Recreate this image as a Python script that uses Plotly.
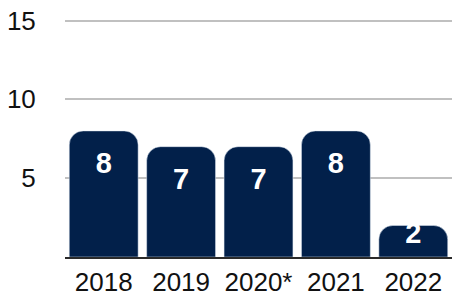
import plotly.graph_objects as go

categories = ["2018", "2019", "2020*", "2021", "2022"]
values = [8, 7, 7, 8, 2]
y_ticks = [5, 10, 15]

BAR_COLOR = "#02204a"
FONT = "Liberation Sans, Arial, Helvetica, sans-serif"

# label positions: inside each bar, below its rounded top
label_y = [v - 2.2 if v > 3 else v * 0.68 for v in values]

fig = go.Figure()
fig.add_trace(go.Bar(
    x=categories, y=values,
    marker=dict(color=BAR_COLOR, cornerradius=14),
    hoverinfo="skip",
))
fig.add_trace(go.Scatter(
    x=categories, y=label_y, mode="text",
    text=[f"<b>{v}</b>" for v in values],
    textposition="middle center",
    textfont=dict(family=FONT, size=29, color="white"),
    hoverinfo="skip",
))

fig.update_layout(
    width=453, height=296,
    margin=dict(l=65, r=1, t=19, b=39),
    paper_bgcolor="white", plot_bgcolor="white",
    bargap=0.11,
    showlegend=False,
    font=dict(family=FONT, size=26, color="#111111"),
    xaxis=dict(
        type="category", automargin=False,
        showgrid=False, showline=True, linecolor="#2a2a2a", linewidth=2,
        ticks="outside", ticklen=1, tickcolor="rgba(0,0,0,0)",
        tickfont=dict(size=26, color="#111111"),
    ),
    yaxis=dict(
        automargin=False,
        range=[0, 15.1], tickvals=y_ticks, ticktext=[str(t) for t in y_ticks],
        showgrid=True, gridcolor="#c0c0c0", gridwidth=2,
        zeroline=False, showline=False,
        ticks="outside", ticklen=23, tickcolor="rgba(0,0,0,0)",
        tickfont=dict(size=26, color="#111111"),
    ),
)

fig.write_html(
    "out.html",
    config={"displayModeBar": False},
    post_script="document.body.style.margin='0';",
)
